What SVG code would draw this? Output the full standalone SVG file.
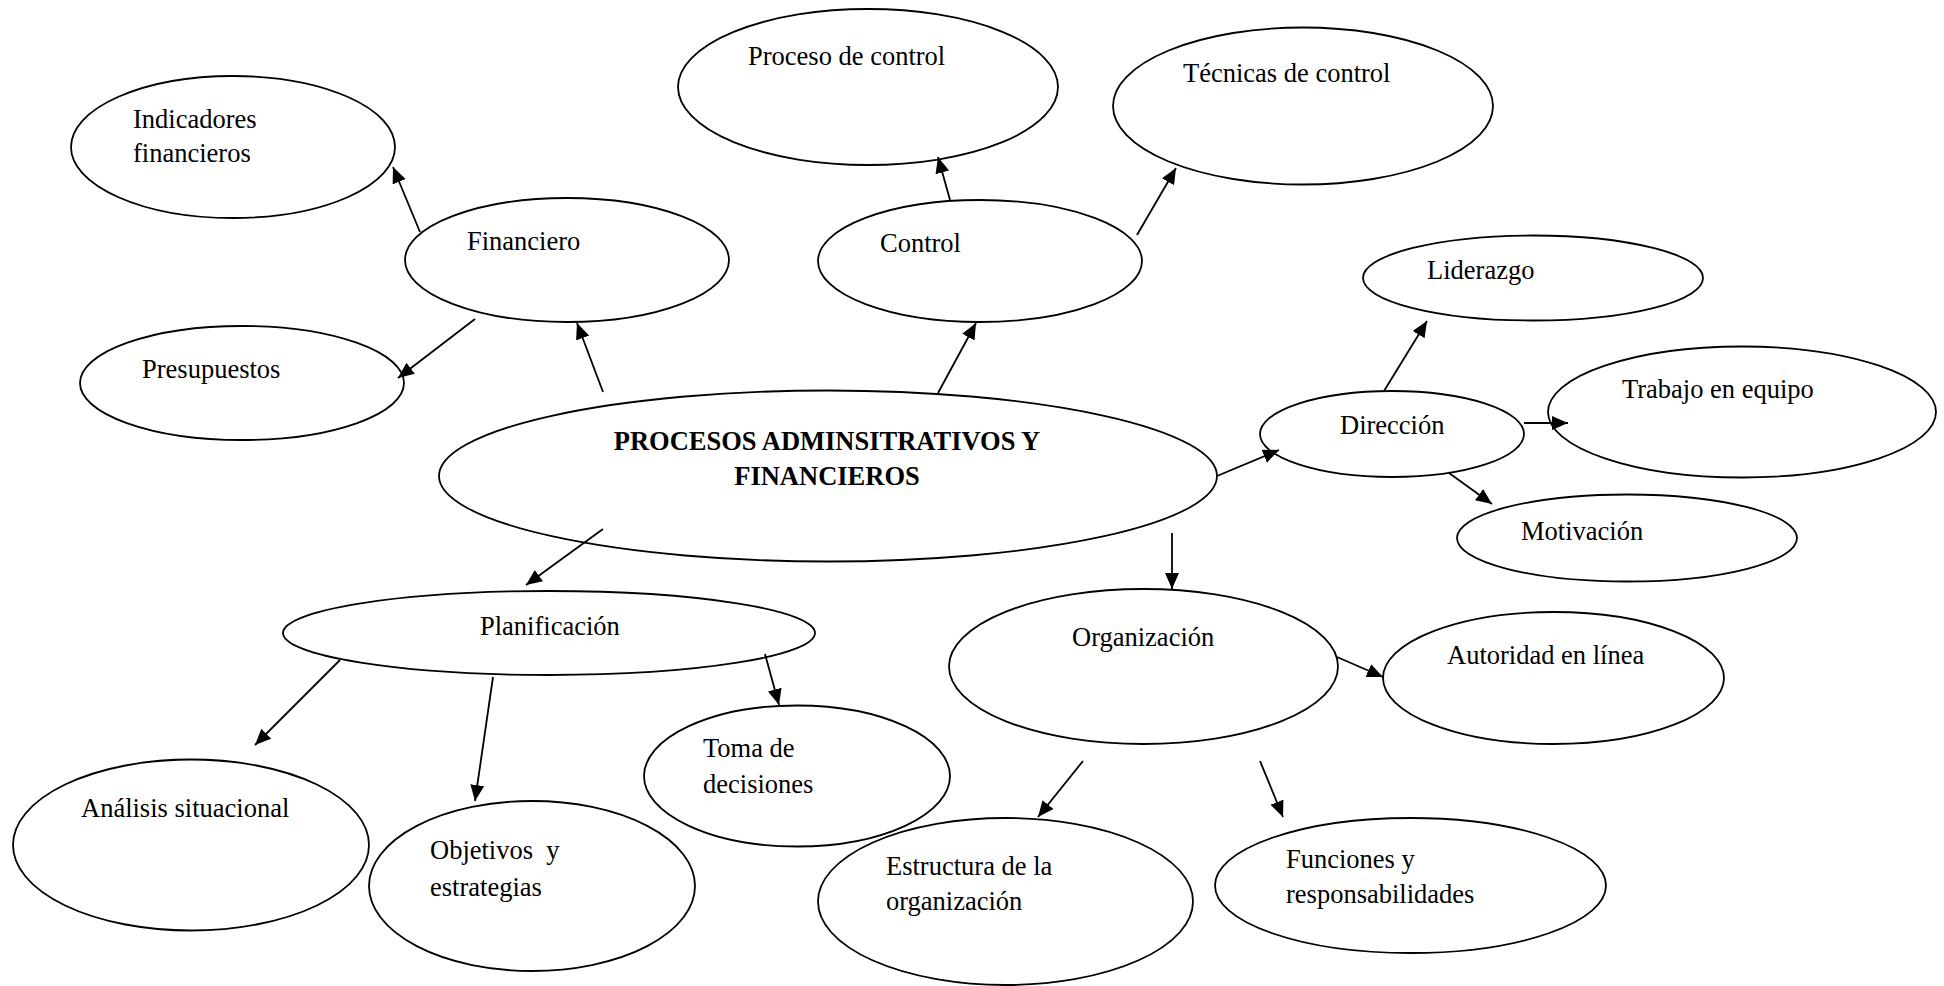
<svg xmlns="http://www.w3.org/2000/svg" width="1944" height="986" viewBox="0 0 1944 986">
<style>
  .n ellipse { fill: none; stroke: #000; stroke-width: 1.8; }
  text { font-family: "Liberation Serif", "Times New Roman", serif; font-size: 26.5px; fill: #000; }
  .b { font-weight: bold; }
  .c line { stroke: #000; stroke-width: 1.8; marker-end: url(#ah); }
</style>
<defs>
  <marker id="ah" markerUnits="userSpaceOnUse" markerWidth="17" markerHeight="15" refX="16" refY="7" orient="auto">
    <path d="M0,0 L16,7 L0,14 z" fill="#000"/>
  </marker>
</defs>
<rect width="1944" height="986" fill="#fff"/>

<g id="central" class="n">
  <ellipse cx="828" cy="476" rx="389" ry="85.5"/>
  <text class="b" x="827" y="450" text-anchor="middle">PROCESOS ADMINSITRATIVOS Y</text>
  <text class="b" x="827" y="485" text-anchor="middle">FINANCIEROS</text>
</g>
<g id="financiero" class="n">
  <ellipse cx="567" cy="260" rx="162" ry="62"/>
  <text x="467" y="250">Financiero</text>
</g>
<g id="indicadores" class="n">
  <ellipse cx="233" cy="147" rx="162" ry="71"/>
  <text x="133" y="128">Indicadores</text>
  <text x="133" y="162">financieros</text>
</g>
<g id="presupuestos" class="n">
  <ellipse cx="242" cy="383" rx="162" ry="57"/>
  <text x="142" y="378">Presupuestos</text>
</g>
<g id="control" class="n">
  <ellipse cx="980" cy="261" rx="162" ry="61"/>
  <text x="880" y="252">Control</text>
</g>
<g id="proceso" class="n">
  <ellipse cx="868" cy="87" rx="190" ry="78"/>
  <text x="748" y="65">Proceso de control</text>
</g>
<g id="tecnicas" class="n">
  <ellipse cx="1303" cy="106" rx="190" ry="78.5"/>
  <text x="1183" y="82">Técnicas de control</text>
</g>
<g id="direccion" class="n">
  <ellipse cx="1392" cy="434" rx="132" ry="43"/>
  <text x="1340" y="434">Dirección</text>
</g>
<g id="liderazgo" class="n">
  <ellipse cx="1533" cy="278" rx="170" ry="42.5"/>
  <text x="1427" y="279">Liderazgo</text>
</g>
<g id="trabajo" class="n">
  <ellipse cx="1742" cy="412" rx="194" ry="65.5"/>
  <text x="1622" y="398">Trabajo en equipo</text>
</g>
<g id="motivacion" class="n">
  <ellipse cx="1627" cy="538" rx="170" ry="43.5"/>
  <text x="1521" y="540">Motivación</text>
</g>
<g id="planificacion" class="n">
  <ellipse cx="549" cy="633" rx="266" ry="42"/>
  <text x="480" y="635">Planificación</text>
</g>
<g id="analisis" class="n">
  <ellipse cx="191" cy="845" rx="178" ry="85.5"/>
  <text x="81" y="817">Análisis situacional</text>
</g>
<g id="objetivos" class="n">
  <ellipse cx="532" cy="886" rx="163" ry="85"/>
  <text x="430" y="859" style="white-space:pre">Objetivos  y</text>
  <text x="430" y="896">estrategias</text>
</g>
<g id="toma" class="n">
  <ellipse cx="797" cy="776" rx="153" ry="70.5"/>
  <text x="703" y="757">Toma de</text>
  <text x="703" y="793">decisiones</text>
</g>
<g id="organizacion" class="n">
  <ellipse cx="1143.5" cy="666.5" rx="194.5" ry="77.5"/>
  <text x="1072" y="646">Organización</text>
</g>
<g id="autoridad" class="n">
  <ellipse cx="1553.5" cy="678" rx="170.5" ry="66"/>
  <text x="1447" y="664">Autoridad en línea</text>
</g>
<g id="estructura" class="n">
  <ellipse cx="1005.5" cy="901.5" rx="187.5" ry="83.5"/>
  <text x="886" y="875">Estructura de la</text>
  <text x="886" y="910">organización</text>
</g>
<g id="funciones" class="n">
  <ellipse cx="1410.5" cy="885.5" rx="195.5" ry="67.5"/>
  <text x="1286" y="868">Funciones y</text>
  <text x="1286" y="903">responsabilidades</text>
</g>

<g id="connectors" class="c">
  <line x1="603" y1="392" x2="577" y2="323"/>
  <line x1="420" y1="232" x2="393" y2="167"/>
  <line x1="475" y1="319" x2="398" y2="378"/>
  <line x1="938" y1="393" x2="976" y2="323"/>
  <line x1="950" y1="200" x2="938" y2="157"/>
  <line x1="1137" y1="235" x2="1176" y2="168"/>
  <line x1="1217" y1="476" x2="1279" y2="450"/>
  <line x1="1384" y1="391" x2="1427" y2="321"/>
  <line x1="1524" y1="423" x2="1568" y2="423"/>
  <line x1="1449" y1="473" x2="1492" y2="504"/>
  <line x1="1172" y1="533" x2="1172" y2="589"/>
  <line x1="603" y1="529" x2="526" y2="585"/>
  <line x1="340" y1="660" x2="255" y2="745"/>
  <line x1="493" y1="677" x2="475" y2="801"/>
  <line x1="765" y1="654" x2="779" y2="705"/>
  <line x1="1337" y1="657" x2="1383" y2="677"/>
  <line x1="1083" y1="761" x2="1038" y2="817"/>
  <line x1="1260" y1="761" x2="1283" y2="817"/>
</g>
</svg>
